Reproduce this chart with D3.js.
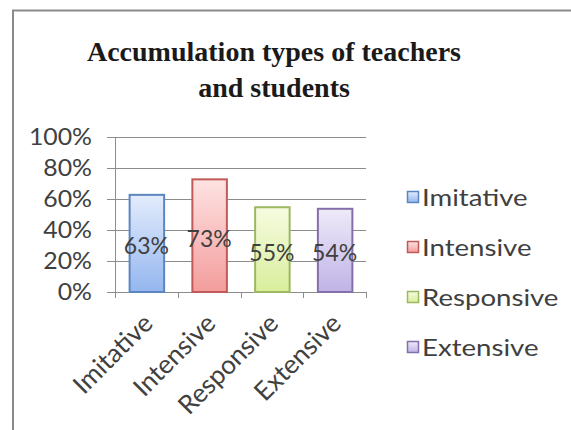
<!DOCTYPE html>
<html>
<head>
<meta charset="utf-8">
<script src="https://cdn.jsdelivr.net/npm/d3@7"></script>
<style>
  html, body { margin: 0; padding: 0; background: #fff; }
  svg { display: block; }
</style>
</head>
<body>
<script>
const categories = ["Imitative", "Intensive", "Responsive", "Extensive"];
const values = [0.63, 0.73, 0.55, 0.54];
const valueLabels = ["63%", "73%", "55%", "54%"];
const yTicks = [0, 0.2, 0.4, 0.6, 0.8, 1.0];
const strokeColors = ["#5b86c0", "#c05a58", "#9cb861", "#8470a8"];
const topColors = ["#e3ecfc", "#fde3e2", "#f6fbe0", "#eeeaf8"];
const bottomColors = ["#94b6ef", "#f39d9c", "#d9ee9c", "#bfb3e6"];
const titleLines = ["Accumulation types of teachers", "and students"];

const W = 571, H = 430;
const svg = d3.select("body").append("svg").attr("width", W).attr("height", H);

// frame
svg.append("line").attr("x1", 12).attr("x2", W).attr("y1", 10.5).attr("y2", 10.5)
  .attr("stroke", "#8a8a8a").attr("stroke-width", 2);
svg.append("line").attr("x1", 13).attr("x2", 13).attr("y1", 10).attr("y2", H)
  .attr("stroke", "#8a8a8a").attr("stroke-width", 2);

// title
svg.append("g").selectAll("text").data(titleLines).join("text")
  .attr("x", 274).attr("y", (d, i) => 61 + i * 36)
  .attr("text-anchor", "middle")
  .attr("font-family", "Liberation Serif, Times New Roman, serif")
  .attr("font-weight", "bold").attr("font-size", 28).attr("fill", "#1a1a1a")
  .text(d => d);

const defs = svg.append("defs");
categories.forEach((c, i) => {
  const g = defs.append("linearGradient").attr("id", "grad" + i)
    .attr("x1", 0).attr("y1", 0).attr("x2", 0).attr("y2", 1);
  g.append("stop").attr("offset", "0%").attr("stop-color", topColors[i]);
  g.append("stop").attr("offset", "100%").attr("stop-color", bottomColors[i]);
});

const x0 = 115, x1 = 366, yTop = 137, yBot = 292;
const x = d3.scaleBand().domain(categories).range([x0, x1]).paddingInner(0.45).paddingOuter(0.225);
const xb = d3.scaleBand().domain(categories).range([x0, x1]);
const y = d3.scaleLinear().domain([0, 1]).range([yBot, yTop]);

const font = "Lato, Carlito, Calibri, sans-serif";
const textCol = "#404040";

// gridlines
svg.append("g").selectAll("line").data(yTicks).join("line")
  .attr("x1", x0 - 8).attr("x2", x1)
  .attr("y1", d => Math.round(y(d)) + 0.5).attr("y2", d => Math.round(y(d)) + 0.5)
  .attr("stroke", "#8c8c8c").attr("stroke-width", 1);

// y axis line
svg.append("line").attr("x1", x0 + 0.5).attr("x2", x0 + 0.5).attr("y1", yTop).attr("y2", yBot)
  .attr("stroke", "#8c8c8c");

// y labels (slightly stretched horizontally like the source)
svg.append("g").selectAll("text").data(yTicks).join("text")
  .attr("transform", d => `translate(92,${y(d)}) scale(1.08,1)`)
  .attr("dy", "0.36em").attr("text-anchor", "end")
  .attr("font-family", font).attr("font-size", 23).attr("fill", textCol)
  .text(d3.format(".0%"));

// x ticks
const tickPos = categories.map(c => xb(c)).concat([x1]);
svg.append("g").selectAll("line").data(tickPos).join("line")
  .attr("x1", d => Math.round(d) + 0.5).attr("x2", d => Math.round(d) + 0.5)
  .attr("y1", yBot).attr("y2", yBot + 6)
  .attr("stroke", "#8c8c8c");

// bars
svg.append("g").selectAll("rect").data(values).join("rect")
  .attr("x", (d, i) => x(categories[i]) + 0.5)
  .attr("y", d => y(d) + 0.5)
  .attr("width", x.bandwidth())
  .attr("height", d => yBot - y(d) - 0.5)
  .attr("fill", (d, i) => `url(#grad${i})`)
  .attr("stroke", (d, i) => strokeColors[i]).attr("stroke-width", 2);

// value labels
svg.append("g").selectAll("text").data(values).join("text")
  .attr("x", (d, i) => x(categories[i]) + x.bandwidth() / 2)
  .attr("y", d => (y(d) + yBot) / 2 + 3)
  .attr("dy", "0.36em").attr("text-anchor", "middle")
  .attr("font-family", font).attr("font-size", 23).attr("fill", textCol)
  .text((d, i) => valueLabels[i]);

// x labels rotated
svg.append("g").selectAll("text").data(categories).join("text")
  .attr("transform", c => `translate(${xb(c) + xb.bandwidth() / 2 + 8},${yBot + 33}) rotate(-45)`)
  .attr("text-anchor", "end")
  .attr("font-family", font).attr("font-size", 26).attr("fill", textCol)
  .text(d => d);

// legend
const legY = [197, 247, 297, 347];
const leg = svg.append("g").selectAll("g").data(categories).join("g")
  .attr("transform", (d, i) => `translate(407,${legY[i]})`);
leg.append("rect").attr("x", 0.5).attr("y", -5.5).attr("width", 11).attr("height", 11)
  .attr("fill", (d, i) => `url(#grad${i})`)
  .attr("stroke", (d, i) => strokeColors[i]).attr("stroke-width", 1.5);
leg.append("text").attr("transform", "translate(15,0) scale(1.15,1)").attr("dy", "0.36em")
  .attr("font-family", font).attr("font-size", 24).attr("fill", textCol)
  .text(d => d);
</script>
</body>
</html>
